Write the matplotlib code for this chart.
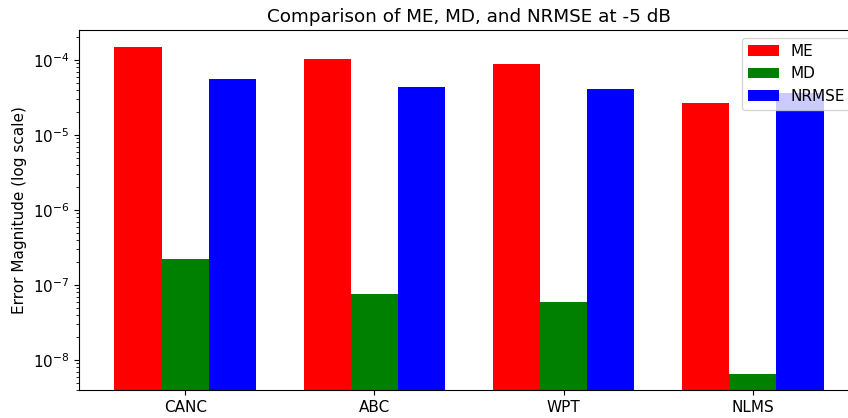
import matplotlib
matplotlib.use("Agg")
import matplotlib.pyplot as plt
import numpy as np

methods = ["CANC", "ABC", "WPT", "NLMS"]
me = [1.51e-4, 1.02e-4, 8.85e-5, 2.7e-5]
md = [2.2e-7, 7.6e-8, 5.93e-8, 6.6e-9]
nrmse = [5.5e-5, 4.33e-5, 4.14e-5, 3.6e-5]

plt.rcParams["font.size"] = 11

fig = plt.figure(figsize=(8.48, 4.18), dpi=100)
W, H = 848, 418
left, right, top, bottom = 79, 859, 30, 390
ax = fig.add_axes([left / W, 1 - bottom / H, (right - left) / W, (bottom - top) / H])

x = np.arange(len(methods))
w = 0.25
ax.bar(x - w, me, w, color="red", label="ME")
ax.bar(x, md, w, color="green", label="MD")
ax.bar(x + w, nrmse, w, color="blue", label="NRMSE")

ax.set_yscale("log")
ax.set_ylim(10 ** -8.4, 10 ** -3.6)
ax.set_xticks(x)
ax.set_xticklabels(methods)
ax.set_ylabel("Error Magnitude (log scale)")
ax.set_title("Comparison of ME, MD, and NRMSE at -5 dB", fontsize=13.2)
ax.legend(loc="upper right")

fig.savefig("out.png", dpi=100)
